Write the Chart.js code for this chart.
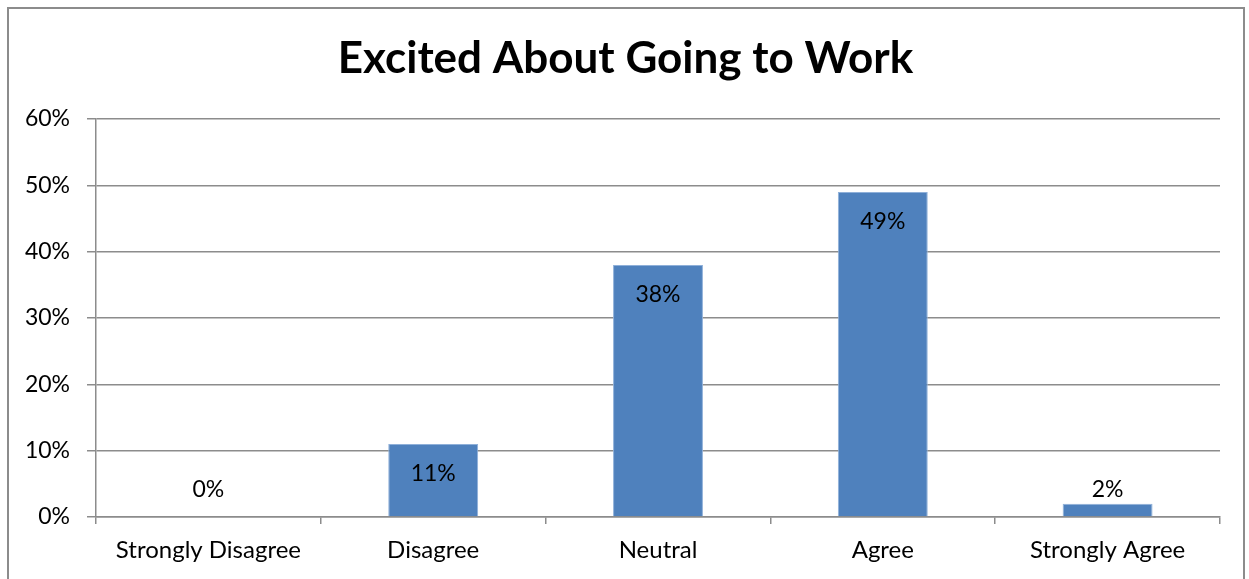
<!DOCTYPE html>
<html>
<head>
<meta charset="utf-8">
<title>Excited About Going to Work</title>
<script src="https://cdn.jsdelivr.net/npm/chart.js@4"></script>
<style>
  html, body { margin: 0; padding: 0; background: #fff; overflow: hidden; }
  #wrap { position: relative; width: 1249px; height: 579px; }
  #frame {
    position: absolute; left: 7px; top: 7px; width: 1238px; height: 580px;
    border: 2px solid #8c8c8c; border-bottom: none; box-sizing: border-box;
    pointer-events: none;
  }
  canvas { position: absolute; left: 0; top: 0; }
</style>
</head>
<body>
<div id="wrap">
  <canvas id="chart" width="1249" height="579"></canvas>
  <div id="frame"></div>
</div>
<script>
// Survey answers, share of respondents (%)
const categories = ["Strongly Disagree", "Disagree", "Neutral", "Agree", "Strongly Agree"];
const shares = [0, 11, 38, 49, 2];
const yTicks = [0, 10, 20, 30, 40, 50, 60];

const FONT = "Lato, 'Open Sans', sans-serif";

// value labels: inside the top of tall bars, just over the axis for tiny ones
const barLabels = {
  id: "barLabels",
  afterDatasetsDraw(chart) {
    const ctx = chart.ctx;
    const meta = chart.getDatasetMeta(0);
    ctx.save();
    ctx.font = "23px " + FONT;
    ctx.fillStyle = "#000";
    ctx.textAlign = "center";
    ctx.textBaseline = "middle";
    meta.data.forEach((bar, i) => {
      const v = shares[i];
      const h = bar.base - bar.y;
      const y = h > 40 ? bar.y + 30 : Math.min(bar.y - 13, bar.base - 27);
      ctx.fillText(v + "%", bar.x, y);
    });
    ctx.restore();
  }
};

new Chart(document.getElementById("chart"), {
  type: "bar",
  data: {
    labels: categories,
    datasets: [{
      data: shares,
      backgroundColor: "#4f81bd",
      borderColor: "#8fb0d9",
      borderWidth: 1,
      categoryPercentage: 1,
      barPercentage: 0.4
    }]
  },
  options: {
    responsive: false,
    animation: false,
    layout: { padding: { left: 2, right: 0, top: 0, bottom: 0 } },
    plugins: {
      legend: { display: false },
      tooltip: { enabled: false },
      title: {
        display: true,
        text: "Excited About Going to Work",
        color: "#000",
        font: { family: FONT, size: 44, weight: "bold", lineHeight: 1.2 },
        padding: { top: 32, bottom: 34.2 }
      }
    },
    scales: {
      x: {
        offset: true,
        grid: {
          offset: true,
          drawOnChartArea: false,
          drawTicks: true,
          tickLength: 7,
          color: "#8c8c8c",
          lineWidth: 1.5
        },
        border: { display: true, color: "#8c8c8c", width: 1.5 },
        ticks: { color: "#000", font: { family: FONT, size: 24 }, padding: 12, maxRotation: 0 },
        afterFit(scale) { scale.height = 62; }
      },
      y: {
        min: 0,
        max: 60,
        afterBuildTicks(scale) { scale.ticks = yTicks.map(v => ({ value: v })); },
        grid: { color: "#8c8c8c", lineWidth: 1.5, tickLength: 9 },
        border: { display: true, color: "#8c8c8c", width: 1.5 },
        ticks: {
          color: "#000",
          font: { family: FONT, size: 23 },
          padding: 17,
          callback: v => v + "%"
        },
        afterFit(scale) { scale.width = 94; }
      },
      // empty strip on the right so the plot stops short of the frame
      yRight: {
        position: "right",
        display: true,
        grid: { display: false },
        border: { display: false },
        ticks: { display: false },
        afterFit(scale) { scale.width = 29; }
      }
    }
  },
  plugins: [barLabels]
});
</script>
</body>
</html>
